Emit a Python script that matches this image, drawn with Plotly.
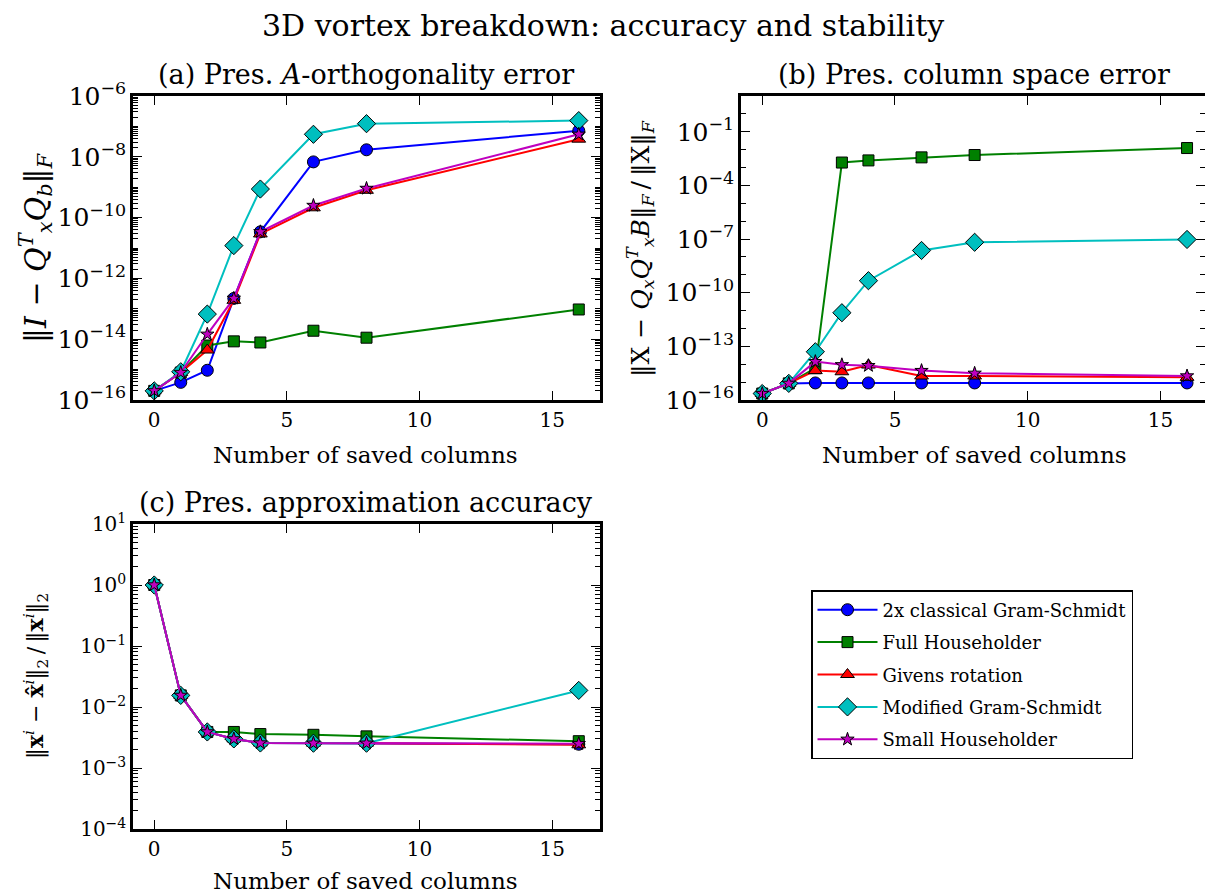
import plotly.graph_objects as go

# ---------------- data ----------------
cols = [0, 1, 2, 3, 4, 6, 8, 16]
methods = ["2x classical Gram-Schmidt", "Full Householder", "Givens rotation",
           "Modified Gram-Schmidt", "Small Householder"]

# (a) Pres. A-orthogonality error
a_cgs2 = [2e-16, 3.8e-16, 9.5e-16, 2.2e-13, 3.4e-11, 6.8e-9, 1.7e-8, 7.2e-8]
a_fhh = [2e-16, 8e-16, 6.2e-15, 8.5e-15, 7.8e-15, 1.9e-14, 1.12e-14, 9.5e-14]
a_giv = [2e-16, 8e-16, 4.4e-15, 1.9e-13, 2.9e-11, 2.1e-10, 7.9e-10, 3.8e-8]
a_mgs = [2e-16, 8.5e-16, 6.7e-14, 1.2e-11, 8.7e-10, 5.5e-8, 1.23e-7, 1.55e-7]
a_shh = [2e-16, 8e-16, 1.45e-14, 2.2e-13, 3.4e-11, 2.5e-10, 9.1e-10, 5.5e-8]

# (b) Pres. column space error
b_cgs2 = [2.3e-16, 8.5e-16, 9e-16, 9e-16, 9e-16, 9e-16, 9e-16, 9e-16]
b_fhh = [2.3e-16, 8.5e-16, 6e-15, 1.9e-3, 2.5e-3, 3.7e-3, 5e-3, 1.23e-2]
b_giv = [2.3e-16, 8.5e-16, 4.4e-15, 3.8e-15, 9e-15, 2.2e-15, 2.2e-15, 1.85e-15]
b_mgs = [2.3e-16, 8.5e-16, 5e-14, 7.6e-12, 4.7e-10, 2.3e-8, 6.6e-8, 9.5e-8]
b_shh = [2.3e-16, 8.5e-16, 1.4e-14, 9.3e-15, 8.3e-15, 4.4e-15, 3.1e-15, 2.2e-15]

# (c) Pres. approximation accuracy
c_cgs2 = [1.0, 0.0155, 3.9e-3, 3.0e-3, 2.57e-3, 2.55e-3, 2.55e-3, 2.45e-3]
c_fhh = [1.0, 0.0155, 3.9e-3, 3.9e-3, 3.6e-3, 3.5e-3, 3.3e-3, 2.75e-3]
c_giv = [1.0, 0.0155, 3.9e-3, 3.0e-3, 2.57e-3, 2.55e-3, 2.55e-3, 2.4e-3]
c_mgs = [1.0, 0.0155, 3.9e-3, 3.0e-3, 2.57e-3, 2.55e-3, 2.55e-3, 1.87e-2]
c_shh = [1.0, 0.0155, 3.9e-3, 3.0e-3, 2.57e-3, 2.55e-3, 2.55e-3, 2.5e-3]

xticks = [0, 5, 10, 15]
c_yticks = [1e-4, 1e-3, 1e-2, 1e-1, 1e0, 1e1]
c_yticklabels = ["10<sup>−4</sup>", "10<sup>−3</sup>", "10<sup>−2</sup>",
                 "10<sup>−1</sup>", "10<sup>0</sup>", "10<sup>1</sup>"]

# ---------------- style ----------------
colors = ["#0000ff", "#008000", "#ff0000", "#00bfbf", "#bf00bf"]
symbols = ["circle", "square", "triangle-up", "diamond", "star"]
msizes = [12, 11, 12, 14, 10]
FONT = "DejaVu Serif"
W, H = 1205, 894

fig = go.Figure()

panels = [
    ("x", "y", [a_cgs2, a_fhh, a_giv, a_mgs, a_shh]),
    ("x2", "y2", [b_cgs2, b_fhh, b_giv, b_mgs, b_shh]),
    ("x3", "y3", [c_cgs2, c_fhh, c_giv, c_mgs, c_shh]),
]
for pi, (xa, ya, series) in enumerate(panels):
    for i, ys in enumerate(series):
        fig.add_trace(go.Scatter(
            x=cols, y=ys, xaxis=xa, yaxis=ya, name=methods[i],
            legendgroup=methods[i],
            mode="lines+markers", showlegend=(pi == 0),
            line=dict(color=colors[i], width=2),
            marker=dict(symbol=symbols[i], size=msizes[i], color=colors[i],
                        line=dict(color="black", width=1)),
        ))

def px_x(p):
    return p / W

def px_y(p):
    return 1 - p / H

TICKFONT = dict(family=FONT, size=20, color="black")

xcommon = dict(range=[-0.8, 16.8], tickvals=xticks, ticks="inside", ticklen=9,
               tickwidth=1.3, tickcolor="black", showline=True, linewidth=2.5,
               linecolor="black", mirror="ticks", showgrid=False, zeroline=False,
               automargin=False, tickfont=TICKFONT)

def ycommon(rng, dtick, tick0, minor_dtick):
    return dict(type="log", range=rng, dtick=dtick, tick0=tick0, ticks="inside",
                ticklen=9, tickwidth=1.3, tickcolor="black", showline=True,
                linewidth=2.5, linecolor="black", mirror="ticks", showgrid=False,
                zeroline=False, exponentformat="power", showexponent="all",
                automargin=False, tickfont=TICKFONT,
                minor=dict(ticks="inside", ticklen=5, tickwidth=1, tickcolor="black",
                           dtick=minor_dtick, showgrid=False))

y3 = ycommon([-4, 1], 1, 0, "D1")
y3.pop("dtick"); y3.pop("tick0")
y3.update(tickmode="array", tickvals=c_yticks, ticktext=c_yticklabels)

fig.update_layout(
    width=W, height=H, margin=dict(l=0, r=0, t=0, b=0, autoexpand=False),
    paper_bgcolor="white", plot_bgcolor="white",
    font=dict(family=FONT, color="black"),
    xaxis=dict(domain=[px_x(133), px_x(600)], anchor="y", **xcommon),
    yaxis=dict(domain=[px_y(400), px_y(96)], anchor="x", **ycommon([-16, -6], 2, 0, "D1")),
    xaxis2=dict(domain=[px_x(741), 1.0], anchor="y2",
                **{**xcommon, "range": [-0.8, -0.8 + (W - 741) / 26.55]}),
    yaxis2=dict(domain=[px_y(400), px_y(96)], anchor="x2", **ycommon([-16, 1], 3, -1, 1)),
    xaxis3=dict(domain=[px_x(133), px_x(600)], anchor="y3", **xcommon),
    yaxis3=dict(domain=[px_y(829), px_y(524)], anchor="x3", **y3),
    legend=dict(x=px_x(811), y=px_y(590), xanchor="left", yanchor="top",
                bordercolor="black", borderwidth=1.5, bgcolor="white",
                font=dict(family=FONT, size=18, color="black"),
                tracegroupgap=6, itemwidth=60),
    showlegend=True,
)

ann = []
def add_text(text, xp, yp, size, angle=0):
    ann.append(dict(text=text, x=px_x(xp), y=px_y(yp), xref="paper", yref="paper",
                    showarrow=False, textangle=angle, xanchor="center", yanchor="middle",
                    font=dict(family=FONT, size=size, color="black")))

add_text("3D vortex breakdown: accuracy and stability", 603, 26, 30)
add_text("(a) Pres. <i>A</i>-orthogonality error", 366, 74, 27)
add_text("(b) Pres. column space error", 974, 74, 27)
add_text("(c) Pres. approximation accuracy", 366, 503, 27)
add_text("Number of saved columns", 366, 455, 23)
add_text("Number of saved columns", 974, 455, 23)
add_text("Number of saved columns", 366, 881, 23)
add_text("‖<i>I</i> − <i>Q</i><sup><i>T</i></sup><sub><i>x</i></sub><i>Q</i><sub><i>b</i></sub>‖<sub><i>F</i></sub>",
         36, 248, 30, -90)
add_text("‖X − <i>Q</i><sub><i>x</i></sub><i>Q</i><sup><i>T</i></sup><sub><i>x</i></sub><i>B</i>‖<sub><i>F</i></sub>\u2009/\u2009‖X‖<sub><i>F</i></sub>",
         640, 249, 25, -90)
add_text("‖<b>x</b><sup><i>i</i></sup> − <b>x̂</b><sup><i>i</i></sup>‖<sub>2</sub>\u2009/\u2009‖<b>x</b><sup><i>i</i></sup>‖<sub>2</sub>",
         36, 676, 22, -90)
fig.update_layout(annotations=ann)

fig.write_html("out.html")
